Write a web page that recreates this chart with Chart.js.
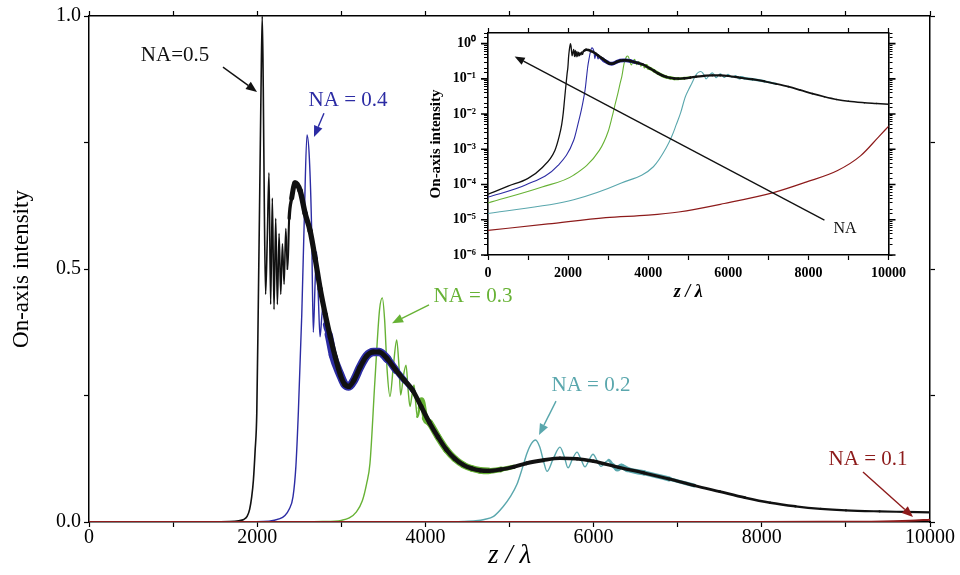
<!DOCTYPE html>
<html>
<head>
<meta charset="utf-8">
<script src="https://cdn.jsdelivr.net/npm/chart.js@4.4.1/dist/chart.umd.min.js"></script>
<style>
  html, body { margin: 0; padding: 0; background: #fff; }
  #wrap { position: relative; width: 960px; height: 575px; }
  #mainChart { position: absolute; left: 0; top: 0; }
  #insetChart { position: absolute; left: 420px; top: 18px; }
</style>
</head>
<body>
<div id="wrap">
  <canvas id="mainChart" width="960" height="575"></canvas>
  <canvas id="insetChart" width="492" height="290"></canvas>
</div>
<script>
// ---- data: z / lambda and on-axis intensity for each NA ----
const na05Z = [0, 500, 1000, 1350, 1670, 1780, 1840, 1880, 1910, 1935, 1955, 1975, 1995, 2013, 2030, 2045, 2060, 2072, 2085, 2100, 2120, 2140, 2160, 2180, 2200, 2220, 2240, 2260, 2280, 2300, 2320, 2340, 2360, 2380, 2410, 2450, 2510, 2570, 2630, 2690, 2750, 2810, 2870, 2930, 2990, 3040, 3090, 3150, 3220, 3300, 3380, 3450, 3550, 3650, 3750, 3850, 3950, 4050, 4150, 4250, 4350, 4450, 4550, 4650, 4750, 4900, 5050, 5200, 5400, 5600, 5800, 6000, 6300, 6600, 6900, 7200, 7500, 7800, 8100, 8400, 8700, 9000, 9400, 9700, 10000];
const na05I = [5.3e-5, 9e-5, 1.5e-4, 3e-4, 9.3e-4, 2.4e-3, 5e-3, 0.011, 0.025, 0.05, 0.083, 0.14, 0.215, 0.43, 0.65, 0.85, 1.0, 0.86, 0.62, 0.45, 0.56, 0.69, 0.43, 0.64, 0.42, 0.6, 0.43, 0.57, 0.45, 0.55, 0.47, 0.58, 0.5, 0.6, 0.64, 0.67, 0.655, 0.61, 0.575, 0.52, 0.46, 0.41, 0.365, 0.325, 0.29, 0.272, 0.268, 0.28, 0.305, 0.328, 0.336, 0.336, 0.322, 0.3, 0.28, 0.26, 0.228, 0.196, 0.168, 0.143, 0.125, 0.113, 0.106, 0.102, 0.101, 0.104, 0.109, 0.116, 0.122, 0.126, 0.125, 0.12, 0.108, 0.097, 0.085, 0.072, 0.06, 0.048, 0.038, 0.031, 0.026, 0.023, 0.021, 0.02, 0.019];

const na04Z = [0, 950, 1750, 2140, 2260, 2330, 2380, 2426, 2460, 2490, 2530, 2560, 2592, 2620, 2647, 2667, 2688, 2706, 2728, 2747, 2768, 2786, 2810, 2850, 2900, 2990, 3040, 3090, 3150, 3220, 3300, 3380, 3450, 3550, 3650, 3750, 3850];
const na04I = [4.4e-5, 9.8e-5, 3.5e-4, 1.8e-3, 6e-3, 0.013, 0.025, 0.05, 0.11, 0.22, 0.41, 0.6, 0.765, 0.72, 0.58, 0.375, 0.47, 0.534, 0.44, 0.366, 0.405, 0.432, 0.39, 0.37, 0.33, 0.29, 0.272, 0.268, 0.28, 0.305, 0.328, 0.336, 0.336, 0.322, 0.3, 0.28, 0.26];

const na03Z = [0, 1350, 2140, 2780, 3000, 3095, 3180, 3250, 3300, 3341, 3400, 3455, 3488, 3515, 3545, 3579, 3620, 3659, 3685, 3706, 3740, 3770, 3795, 3817, 3840, 3865, 3885, 3904, 3930, 3955, 4000, 4050, 4150, 4250, 4350, 4450, 4550, 4650, 4750, 4900, 5050];
const na03I = [3e-5, 8.5e-5, 1.85e-4, 9.3e-4, 3.2e-3, 8e-3, 0.02, 0.042, 0.075, 0.116, 0.28, 0.42, 0.443, 0.4, 0.3, 0.248, 0.31, 0.36, 0.31, 0.251, 0.29, 0.31, 0.26, 0.228, 0.25, 0.271, 0.235, 0.208, 0.225, 0.241, 0.205, 0.196, 0.168, 0.143, 0.125, 0.113, 0.106, 0.102, 0.101, 0.104, 0.109];

const na02Z = [0, 2140, 3330, 4130, 4450, 4600, 4700, 4811, 4923, 5010, 5090, 5150, 5208, 5260, 5310, 5360, 5405, 5446, 5520, 5600, 5650, 5696, 5750, 5803, 5850, 5898, 5945, 5993, 6040, 6088, 6135, 6180, 6230, 6280, 6330, 6400, 6600, 6900, 7200];
const na02I = [1.5e-5, 3.7e-5, 1.1e-4, 3.2e-4, 1.1e-3, 2.5e-3, 5e-3, 0.011, 0.03, 0.05, 0.075, 0.105, 0.136, 0.155, 0.162, 0.148, 0.12, 0.1, 0.125, 0.148, 0.13, 0.107, 0.125, 0.138, 0.124, 0.109, 0.122, 0.134, 0.122, 0.11, 0.117, 0.122, 0.112, 0.105, 0.11, 0.104, 0.097, 0.085, 0.072];

const na01Z = [0, 1500, 2940, 4000, 4760, 5900, 7150, 7940, 8730, 9300, 9760, 10000];
const na01I = [5e-6, 7.6e-6, 1.15e-5, 1.35e-5, 1.66e-5, 2.9e-5, 6e-5, 1.17e-4, 2.5e-4, 6.5e-4, 2.3e-3, 4.5e-3];

const xTicks = [0, 2000, 4000, 6000, 8000, 10000];
const yTicks = [0, 0.5, 1.0];
const decades = [1e-6, 1e-5, 1e-4, 1e-3, 1e-2, 1e-1, 1];

const SERIF = "'Liberation Serif', 'Times New Roman', serif";
const C = { black: '#111111', blue: '#2c2ca4', green: '#67b235', cyan: '#5aa7ad', red: '#8d1b1b' };

// stroke width profile along z: [z, main width, inset width]; the thick parts stand in for dense fast oscillation
const styles = {
  na05: { color: C.black, widths: [[2360, 1.6, 1.3], [2440, 5.5, 2.6], [2750, 5.2, 2.6], [3800, 4.8, 2.5], [5000, 4, 2.3], [6500, 3.2, 2], [8500, 2.4, 1.6], [10000, 2, 1.4]] },
  na04: { color: C.blue, widths: [[2780, 1.4, 1.1], [2880, 8.5, 3.8], [3500, 8.5, 3.8], [3750, 5.5, 2.6], [3850, 4.4, 2.2]] },
  na03: { color: C.green, widths: [[3900, 1.4, 1.1], [4000, 7, 3.4], [4700, 6.6, 3.2], [5050, 3.8, 2.1]] },
  na02: { color: C.cyan, widths: [[6150, 1.4, 1.1], [6300, 5.5, 2.8], [6900, 4.8, 2.4], [7200, 2.8, 1.7]] },
  na01: { color: C.red, widths: [[0, 2, 1.2]] }
};

function widthAt(profile, x, k) {
  const col = k + 1;
  if (x <= profile[0][0]) return profile[0][col];
  for (let i = 1; i < profile.length; i++) {
    if (x <= profile[i][0]) {
      const a = profile[i - 1], b = profile[i];
      const t = (x - a[0]) / (b[0] - a[0]);
      return a[col] + t * (b[col] - a[col]);
    }
  }
  return profile[profile.length - 1][col];
}

function makeDataset(zs, vals, st, k, order) {
  return {
    data: zs.map((z, i) => ({ x: z, y: vals[i] })),
    borderColor: st.color,
    borderWidth: st.widths[0][k + 1],
    pointRadius: 0,
    cubicInterpolationMode: 'monotone',
    borderCapStyle: 'round',
    borderJoinStyle: 'round',
    order: order,
    segment: {
      borderWidth: ctx => widthAt(st.widths, (ctx.p0.parsed.x + ctx.p1.parsed.x) / 2, k)
    }
  };
}

function buildDatasets(k) {
  return [
    makeDataset(na01Z, na01I, styles.na01, k, 0),
    makeDataset(na05Z, na05I, styles.na05, k, 1),
    makeDataset(na04Z, na04I, styles.na04, k, 2),
    makeDataset(na03Z, na03I, styles.na03, k, 3),
    makeDataset(na02Z, na02I, styles.na02, k, 4)
  ];
}

function drawArrow(ctx, x0, y0, x1, y1, color, lw, headLen, headW) {
  const ang = Math.atan2(y1 - y0, x1 - x0);
  const bx = x1 - headLen * Math.cos(ang), by = y1 - headLen * Math.sin(ang);
  ctx.strokeStyle = color;
  ctx.lineWidth = lw;
  ctx.beginPath();
  ctx.moveTo(x0, y0);
  ctx.lineTo(bx, by);
  ctx.stroke();
  ctx.fillStyle = color;
  ctx.beginPath();
  ctx.moveTo(x1, y1);
  ctx.lineTo(bx + headW * Math.sin(ang), by - headW * Math.cos(ang));
  ctx.lineTo(bx - headW * Math.sin(ang), by + headW * Math.cos(ang));
  ctx.closePath();
  ctx.fill();
}

// label + arrow positions in data coordinates
const mainNotes = [
  { text: 'NA=0.5', color: C.black, tx: 1023, ty: 0.922, from: [1593, 0.899], to: [1998, 0.85] },
  { text: 'NA = 0.4', color: C.blue, tx: 3080, ty: 0.834, from: [2794, 0.808], to: [2675, 0.761] },
  { text: 'NA = 0.3', color: C.green, tx: 4566, ty: 0.445, from: [4043, 0.429], to: [3603, 0.393] },
  { text: 'NA = 0.2', color: C.cyan, tx: 5969, ty: 0.269, from: [5553, 0.239], to: [5351, 0.172] },
  { text: 'NA = 0.1', color: C.red, tx: 9263, ty: 0.1245, from: [9203, 0.099], to: [9798, 0.01] }
];

const notesPlugin = {
  id: 'naNotes',
  afterDatasetsDraw(chart) {
    const { ctx, scales: { x, y } } = chart;
    ctx.save();
    ctx.font = '21px ' + SERIF;
    ctx.textAlign = 'center';
    ctx.textBaseline = 'middle';
    mainNotes.forEach(n => {
      ctx.fillStyle = n.color;
      ctx.fillText(n.text, x.getPixelForValue(n.tx), y.getPixelForValue(n.ty));
      drawArrow(ctx, x.getPixelForValue(n.from[0]), y.getPixelForValue(n.from[1]),
        x.getPixelForValue(n.to[0]), y.getPixelForValue(n.to[1]), n.color, 1.4, 11, 4.5);
    });
    ctx.restore();
  }
};

const axisFont = { family: SERIF, size: 20, lineHeight: 1 };
const frameGrid = { drawOnChartArea: false, tickLength: 5, tickColor: '#000', tickWidth: 1.2 };
const frameBorder = { color: '#000', width: 1.5 };

new Chart(document.getElementById('mainChart'), {
  type: 'line',
  data: { datasets: buildDatasets(0) },
  options: {
    responsive: false,
    animation: false,
    layout: { padding: 0 },
    plugins: { legend: { display: false }, tooltip: { enabled: false } },
    scales: {
      x: {
        type: 'linear', position: 'bottom', min: 0, max: 10000,
        ticks: { stepSize: 1000, autoSkip: false, maxRotation: 0, padding: 1, color: '#000', font: axisFont,
          callback: v => xTicks.includes(v) ? String(v) : '' },
        grid: frameGrid, border: frameBorder,
        title: { display: true, text: 'z / λ', color: '#000', padding: { top: 0, bottom: 6 },
          font: { family: SERIF, size: 27, style: 'italic', lineHeight: 1 } },
        afterFit: s => { s.height = 53; }
      },
      x2: {
        type: 'linear', position: 'top', min: 0, max: 10000,
        ticks: { stepSize: 1000, autoSkip: false, callback: () => '' },
        grid: frameGrid, border: frameBorder,
        afterFit: s => { s.height = 16; }
      },
      y: {
        type: 'linear', position: 'left', min: 0, max: 1,
        ticks: { stepSize: 0.25, autoSkip: false, padding: 3, color: '#000', font: axisFont,
          callback: v => yTicks.some(t => Math.abs(t - v) < 1e-9) ? v.toFixed(1) : '' },
        grid: frameGrid, border: frameBorder,
        title: { display: true, text: 'On-axis intensity', color: '#000', padding: { top: 10, bottom: 0 },
          font: { family: SERIF, size: 23, lineHeight: 1 } },
        afterFit: s => { s.width = 89; }
      },
      y2: {
        type: 'linear', position: 'right', min: 0, max: 1,
        ticks: { stepSize: 0.25, autoSkip: false, callback: () => '' },
        grid: frameGrid, border: frameBorder,
        afterFit: s => { s.width = 30; }
      }
    }
  },
  plugins: [notesPlugin]
});

// ---- inset: same data on a log axis ----
const SUP = { '0': '⁰', '1': '¹', '2': '²', '3': '³', '4': '⁴', '5': '⁵', '6': '⁶', '-': '⁻' };
function powLabel(v) {
  const e = Math.log10(v);
  if (Math.abs(e - Math.round(e)) > 1e-6) return '';
  return '10' + String(Math.round(e)).split('').map(c => SUP[c]).join('');
}

const insetArrow = { from: [8400, 9.8e-6], to: [665, 0.43], text: 'NA', tx: 8916, ty: 5.4e-6 };

const insetPlugin = {
  id: 'insetExtras',
  afterDatasetsDraw(chart) {
    const { ctx, scales: { x, y } } = chart;
    ctx.save();
    drawArrow(ctx, x.getPixelForValue(insetArrow.from[0]), y.getPixelForValue(insetArrow.from[1]),
      x.getPixelForValue(insetArrow.to[0]), y.getPixelForValue(insetArrow.to[1]), '#111', 1.3, 10, 4);
    ctx.fillStyle = '#111';
    ctx.font = '16px ' + SERIF;
    ctx.textAlign = 'center';
    ctx.textBaseline = 'middle';
    ctx.fillText(insetArrow.text, x.getPixelForValue(insetArrow.tx), y.getPixelForValue(insetArrow.ty));
    ctx.restore();
  },
  afterDraw(chart) {
    const { ctx, chartArea, scales: { y } } = chart;
    ctx.save();
    ctx.strokeStyle = '#000';
    ctx.lineWidth = 1.6;
    decades.forEach(v => {
      const py = y.getPixelForValue(v);
      ctx.beginPath();
      ctx.moveTo(chartArea.left, py); ctx.lineTo(chartArea.left - 7, py);
      ctx.moveTo(chartArea.right, py); ctx.lineTo(chartArea.right + 7, py);
      ctx.stroke();
    });
    ctx.restore();
  }
};

const insetGrid = { drawOnChartArea: false, tickLength: 4, tickColor: '#000', tickWidth: 1 };
const insetXGrid = { drawOnChartArea: false, tickLength: 5, tickColor: '#000', tickWidth: 1.2 };
const insetBorder = { color: '#000', width: 1.6 };
const insetFont = { family: SERIF, size: 14, weight: 'bold', lineHeight: 1 };

new Chart(document.getElementById('insetChart'), {
  type: 'line',
  data: { datasets: buildDatasets(1) },
  options: {
    responsive: false,
    animation: false,
    layout: { padding: 0 },
    plugins: { legend: { display: false }, tooltip: { enabled: false } },
    scales: {
      x: {
        type: 'linear', position: 'bottom', min: 0, max: 10000,
        ticks: { stepSize: 1000, autoSkip: false, maxRotation: 0, padding: 6, color: '#000', font: insetFont,
          callback: v => xTicks.includes(v) ? String(v) : '' },
        grid: insetXGrid, border: insetBorder,
        title: { display: true, text: 'z / λ', color: '#000', padding: { top: 0, bottom: 7 },
          font: { family: SERIF, size: 18, style: 'italic', weight: 'bold', lineHeight: 1 } },
        afterFit: s => { s.height = 53; }
      },
      x2: {
        type: 'linear', position: 'top', min: 0, max: 10000,
        ticks: { stepSize: 1000, autoSkip: false, callback: () => '' },
        grid: insetXGrid, border: insetBorder,
        afterFit: s => { s.height = 13; }
      },
      y: {
        type: 'logarithmic', position: 'left', min: 1e-6, max: 2,
        ticks: { autoSkip: false, padding: 8, color: '#000', font: { family: SERIF, size: 14, weight: 'bold', lineHeight: 1 },
          callback: v => powLabel(v) },
        grid: insetGrid, border: insetBorder,
        title: { display: true, text: 'On-axis intensity', color: '#000', padding: { top: 9, bottom: 0 },
          font: { family: SERIF, size: 15, weight: 'bold', lineHeight: 1 } },
        afterFit: s => { s.width = 68; }
      },
      y2: {
        type: 'logarithmic', position: 'right', min: 1e-6, max: 2,
        ticks: { autoSkip: false, callback: () => '' },
        grid: insetGrid, border: insetBorder,
        afterFit: s => { s.width = 18; }
      }
    }
  },
  plugins: [insetPlugin]
});
</script>
</body>
</html>
